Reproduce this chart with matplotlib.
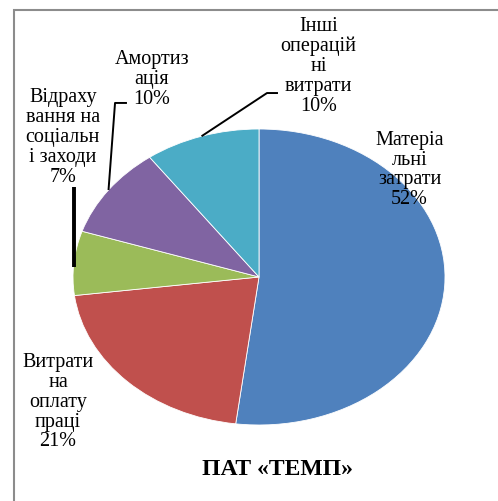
import numpy as np
import matplotlib
matplotlib.use('Agg')
import matplotlib.pyplot as plt
from matplotlib.patches import Rectangle

# data (clockwise from 12 o'clock)
categories = ['Матеріальні затрати', 'Витрати на оплату праці',
              'Відрахування на соціальні заходи', 'Амортизація',
              'Інші операційні витрати']
shares = [52, 21, 7, 10, 10]
label_texts = ['Матеріа\nльні\nзатрати\n52%',
               'Витрати\nна\nоплату\nпраці\n21%',
               'Відраху\nвання на\nсоціальн\nі заходи\n7%',
               'Амортиз\nація\n10%',
               'Інші\nоперацій\nні\nвитрати\n10%']
colors = ['#4F81BD', '#C0504D', '#9BBB59', '#8064A2', '#4BACC6']
title = 'ПАТ «ТЕМП»'

plt.rcParams['font.family'] = ['Liberation Serif', 'DejaVu Serif']

W, H = 498, 502
fig = plt.figure(figsize=(W / 100, H / 100), dpi=100)

# outer chart frame (partly cut off on the right/bottom)
fig.add_artist(Rectangle((14 / W, -0.2), 2.0, (H - 11) / H + 0.2,
                         transform=fig.transFigure, fill=False,
                         edgecolor='#8c8c8c', linewidth=1.5))

# pie drawn as an ellipse: axes stretched horizontally
cx, cy, rx, ry = 259, 278, 186, 148
ax = fig.add_axes([(cx - rx) / W, (H - cy - ry) / H, 2 * rx / W, 2 * ry / H])
wedges, _ = ax.pie(shares, colors=colors, startangle=90, counterclock=False,
                   wedgeprops=dict(linewidth=0.6, edgecolor='white'))
ax.set_aspect('auto')
ax.set_xlim(-1, 1)
ax.set_ylim(-1, 1)
ax.axis('off')

# label positions (data coords of axes, centre of text block)
label_pos = [(0.81, 0.73), (-1.08, -0.84), (-1.055, 0.95),
             (-0.575, 1.34), (0.32, 1.43)]
for txt, (lx, ly) in zip(label_texts, label_pos):
    ax.text(lx, ly, txt, ha='center', va='center', fontsize=14.5,
            linespacing=1.06, clip_on=False)

def edge_point(w):
    a = np.deg2rad((w.theta1 + w.theta2) / 2)
    return np.cos(a), np.sin(a)

# leader lines: (wedge index, elbow, end, width)
leaders = [(4, (0.043, 1.243), (0.102, 1.243), 1.4),
           (3, (-0.774, 1.176), (-0.71, 1.176), 1.4),
           (2, (-0.995, 0.608), None, 2.8)]
for i, elbow, end, lw in leaders:
    ex, ey = edge_point(wedges[i])
    if i == 2:
        ey = 0.068
        ex = -0.995
    xs, ys = [ex, elbow[0]], [ey, elbow[1]]
    if end is not None:
        xs.append(end[0])
        ys.append(end[1])
    ax.plot(xs, ys, color='black', linewidth=lw, clip_on=False,
            solid_capstyle='butt')

fig.text(277 / W, 1 - 470 / H, title, ha='center', va='center',
         fontsize=17, fontweight='bold')

fig.savefig('out.png', dpi=100)
